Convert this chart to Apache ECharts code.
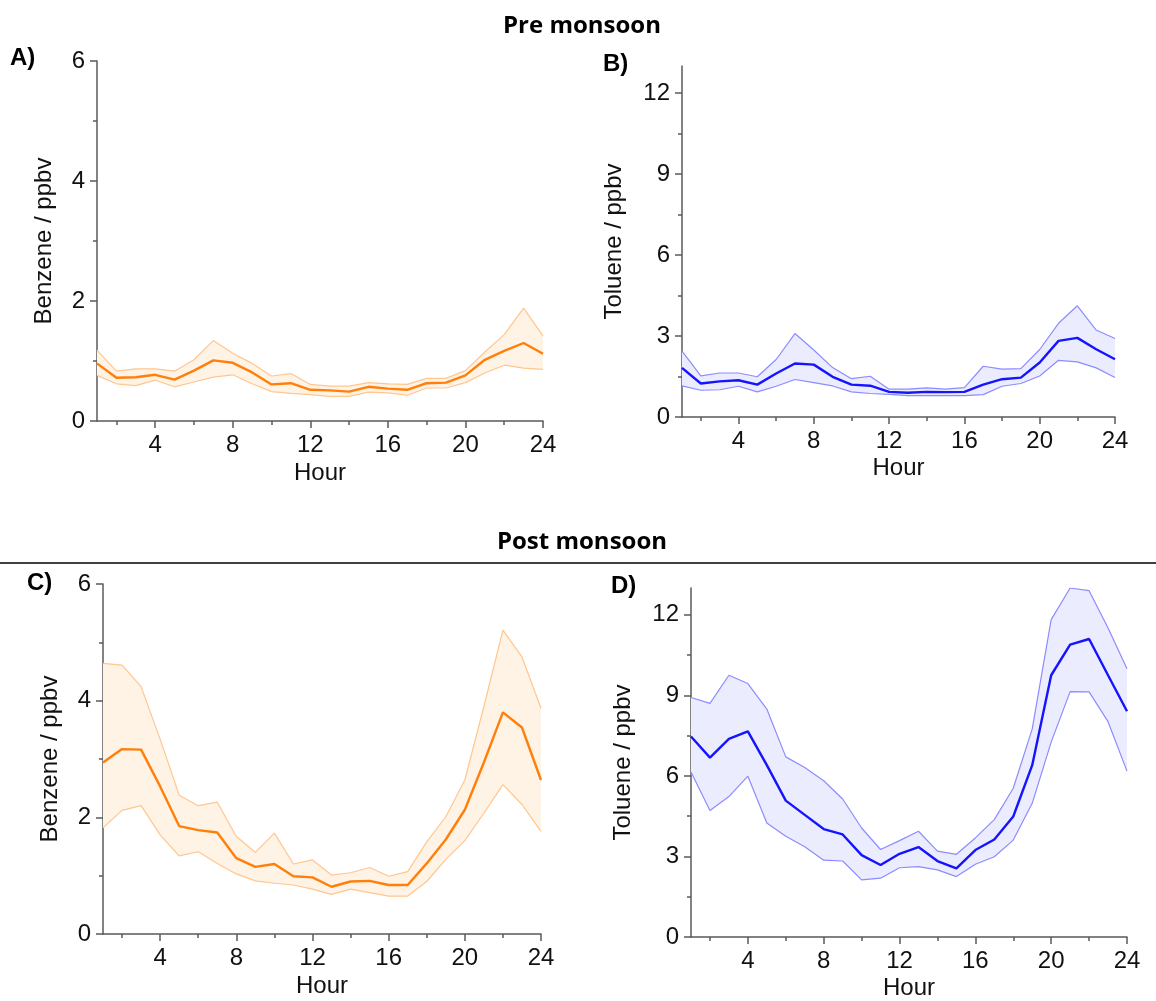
<!DOCTYPE html>
<html>
<head>
<meta charset="utf-8">
<title>Benzene and toluene diurnal profiles</title>
<script src="https://cdn.jsdelivr.net/npm/echarts@6/dist/echarts.min.js"></script>
<style>
  html, body { margin: 0; padding: 0; background: #ffffff; }
  #chart { width: 1156px; height: 1001px; }
</style>
</head>
<body>
<div id="chart"></div>
<script>
// Hour of day
const hours = [1,2,3,4,5,6,7,8,9,10,11,12,13,14,15,16,17,18,19,20,21,22,23,24];

// Pre monsoon benzene (ppbv): mean and band limits
const preBenzeneMean  = [0.96,0.72,0.73,0.77,0.69,0.84,1.01,0.97,0.81,0.61,0.63,0.52,0.51,0.49,0.57,0.54,0.52,0.63,0.64,0.76,1.02,1.17,1.30,1.12];
const preBenzeneUpper = [1.18,0.83,0.87,0.87,0.83,1.02,1.34,1.13,0.96,0.75,0.79,0.61,0.58,0.58,0.64,0.62,0.61,0.71,0.71,0.84,1.15,1.44,1.88,1.42];
const preBenzeneLower = [0.76,0.62,0.59,0.68,0.57,0.65,0.73,0.77,0.62,0.49,0.46,0.44,0.41,0.41,0.48,0.47,0.43,0.55,0.55,0.64,0.80,0.93,0.88,0.86];

// Pre monsoon toluene (ppbv)
const preTolueneMean  = [1.82,1.24,1.32,1.36,1.20,1.61,1.98,1.94,1.49,1.20,1.16,0.93,0.90,0.93,0.92,0.93,1.20,1.40,1.46,2.02,2.82,2.93,2.51,2.14];
const preTolueneUpper = [2.44,1.52,1.63,1.63,1.49,2.13,3.09,2.48,1.83,1.42,1.51,1.03,1.03,1.08,1.03,1.09,1.88,1.77,1.79,2.50,3.47,4.12,3.22,2.91];
const preTolueneLower = [1.15,0.99,1.01,1.14,0.93,1.14,1.39,1.27,1.15,0.93,0.87,0.84,0.79,0.79,0.79,0.79,0.83,1.14,1.24,1.52,2.10,2.04,1.82,1.46];

// Post monsoon benzene (ppbv)
const postBenzeneMean  = [2.94,3.17,3.16,2.53,1.85,1.78,1.74,1.30,1.15,1.20,0.99,0.97,0.81,0.90,0.91,0.84,0.84,1.21,1.62,2.13,2.94,3.80,3.54,2.64];
const postBenzeneUpper = [4.64,4.61,4.24,3.34,2.38,2.20,2.26,1.67,1.40,1.73,1.20,1.27,1.01,1.05,1.14,0.99,1.07,1.58,2.01,2.64,3.90,5.21,4.75,3.87];
const postBenzeneLower = [1.82,2.12,2.20,1.70,1.34,1.41,1.21,1.03,0.91,0.87,0.84,0.77,0.68,0.77,0.71,0.65,0.65,0.90,1.28,1.60,2.07,2.56,2.22,1.76];

// Post monsoon toluene (ppbv)
const postTolueneMean  = [7.47,6.68,7.38,7.66,6.40,5.08,4.55,4.02,3.82,3.05,2.68,3.10,3.35,2.83,2.56,3.24,3.63,4.49,6.40,9.75,10.89,11.10,9.75,8.41];
const postTolueneUpper = [8.92,8.70,9.75,9.44,8.49,6.71,6.31,5.82,5.14,4.06,3.26,3.59,3.94,3.20,3.08,3.69,4.37,5.54,7.75,11.82,13.00,12.90,11.51,9.99];
const postTolueneLower = [6.15,4.71,5.23,5.99,4.25,3.75,3.36,2.86,2.83,2.13,2.19,2.58,2.62,2.50,2.25,2.71,2.99,3.61,4.98,7.26,9.14,9.13,8.02,6.18];

// Axis ticks and labels
const hourLabelTicks = [4,8,12,16,20,24];
const hourMinorTicks = [2,6,10,14,18,22];
const benzeneTicks = [0,2,4,6];
const benzeneMinorTicks = [1,3,5];
const tolueneTicks = [0,3,6,9,12];
const tolueneMinorTicks = [1.5,4.5,7.5,10.5];

const ORANGE = { line: '#ff7f0a', edge: '#ffc68f', fill: '#fff3e6' };
const BLUE   = { line: '#1414ff', edge: '#8c8cff', fill: '#ececff' };

const AXIS_COLOR = '#5a5a5a';
const LABEL_FONT = 'Liberation Sans, Arial, sans-serif';
const FONT_SIZE = 24;

const panels = [
  { grid: { left: 97,  top: 61,  width: 446, height: 360 }, yMax: 6,  yName: 'Benzene / ppbv', yTicks: benzeneTicks, yMinor: benzeneMinorTicks, nameGap: 41, hourGap: 40,
    mean: preBenzeneMean, upper: preBenzeneUpper, lower: preBenzeneLower, col: ORANGE },
  { grid: { left: 682, top: 66,  width: 433, height: 351 }, yMax: 13, yName: 'Toluene / ppbv', yTicks: tolueneTicks, yMinor: tolueneMinorTicks, nameGap: 56, hourGap: 39,
    mean: preTolueneMean, upper: preTolueneUpper, lower: preTolueneLower, col: BLUE },
  { grid: { left: 103, top: 584, width: 438, height: 350 }, yMax: 6,  yName: 'Benzene / ppbv', yTicks: benzeneTicks, yMinor: benzeneMinorTicks, nameGap: 41, hourGap: 40,
    mean: postBenzeneMean, upper: postBenzeneUpper, lower: postBenzeneLower, col: ORANGE },
  { grid: { left: 691, top: 588, width: 436, height: 353 }, yMax: 13, yName: 'Toluene / ppbv', yTicks: tolueneTicks, yMinor: tolueneMinorTicks, nameGap: 56, hourGap: 39,
    mean: postTolueneMean, upper: postTolueneUpper, lower: postTolueneLower, col: BLUE }
];

const grids = [], xAxes = [], yAxes = [], series = [];

// Filled polygon between the lower and upper limits, built once per panel
function bandRenderer(upper, lower, fill) {
  return function (params, api) {
    if (params.dataIndex !== 0) return null;
    const pts = [];
    for (let k = 0; k < hours.length; k++) pts.push(api.coord([hours[k], upper[k]]));
    for (let k = hours.length - 1; k >= 0; k--) pts.push(api.coord([hours[k], lower[k]]));
    return { type: 'polygon', shape: { points: pts }, style: { fill: fill, stroke: null } };
  };
}

panels.forEach((p, i) => {
  grids.push(Object.assign({ containLabel: false }, p.grid));

  // major hour axis with labels
  xAxes.push({
    type: 'value', gridIndex: i, position: 'bottom', min: 1, max: 24,
    name: 'Hour', nameLocation: 'middle', nameGap: p.hourGap,
    nameTextStyle: { fontFamily: LABEL_FONT, fontSize: FONT_SIZE, color: '#111' },
    axisLine: { show: true, onZero: false, lineStyle: { color: AXIS_COLOR, width: 1.5 } },
    axisTick: { show: true, inside: false, length: 7, customValues: hourLabelTicks, lineStyle: { color: AXIS_COLOR, width: 1.5 } },
    axisLabel: { show: true, margin: 12, customValues: hourLabelTicks, fontFamily: LABEL_FONT, fontSize: FONT_SIZE, color: '#111' },
    splitLine: { show: false }
  });
  // minor hour ticks
  xAxes.push({
    type: 'value', gridIndex: i, position: 'bottom', min: 1, max: 24,
    axisLine: { show: false, onZero: false },
    axisTick: { show: true, inside: false, length: 4, customValues: hourMinorTicks, lineStyle: { color: AXIS_COLOR, width: 1.5 } },
    axisLabel: { show: false },
    splitLine: { show: false }
  });

  // major concentration axis with labels
  yAxes.push({
    type: 'value', gridIndex: i, position: 'left', min: 0, max: p.yMax,
    name: p.yName, nameLocation: 'middle', nameGap: p.nameGap,
    nameTextStyle: { fontFamily: LABEL_FONT, fontSize: FONT_SIZE, color: '#111' },
    axisLine: { show: true, onZero: false, lineStyle: { color: AXIS_COLOR, width: 1.5 } },
    axisTick: { show: true, inside: false, length: 7, customValues: p.yTicks, lineStyle: { color: AXIS_COLOR, width: 1.5 } },
    axisLabel: { show: true, margin: 12, customValues: p.yTicks, fontFamily: LABEL_FONT, fontSize: FONT_SIZE, color: '#111' },
    splitLine: { show: false }
  });
  // minor concentration ticks
  yAxes.push({
    type: 'value', gridIndex: i, position: 'left', min: 0, max: p.yMax,
    axisLine: { show: false, onZero: false },
    axisTick: { show: true, inside: false, length: 4, customValues: p.yMinor, lineStyle: { color: AXIS_COLOR, width: 1.5 } },
    axisLabel: { show: false },
    splitLine: { show: false }
  });

  const xi = i * 2, yi = i * 2;

  // shaded band
  series.push({
    type: 'custom', xAxisIndex: xi, yAxisIndex: yi, silent: true, z: 1,
    data: hours.map((h, k) => [h, p.lower[k], p.upper[k]]),
    encode: { x: 0, y: [1, 2] },
    renderItem: bandRenderer(p.upper, p.lower, p.col.fill)
  });
  // upper and lower limits
  [p.upper, p.lower].forEach(arr => {
    series.push({
      type: 'line', xAxisIndex: xi, yAxisIndex: yi,
      data: hours.map((h, k) => [h, arr[k]]),
      symbol: 'none', silent: true, z: 2,
      lineStyle: { color: p.col.edge, width: 1.2 }
    });
  });
  // mean
  series.push({
    type: 'line', xAxisIndex: xi, yAxisIndex: yi,
    data: hours.map((h, k) => [h, p.mean[k]]),
    symbol: 'none', silent: true, z: 3,
    lineStyle: { color: p.col.line, width: 2.4 }
  });
});

const PANEL_FONT = 'bold 24px "Liberation Sans", Arial, sans-serif';
const TITLE_FONT = 'bold 24px "Open Sans", sans-serif';

const chart = echarts.init(document.getElementById('chart'), null, { renderer: 'canvas' });
chart.setOption({
  backgroundColor: '#ffffff',
  animation: false,
  grid: grids,
  xAxis: xAxes,
  yAxis: yAxes,
  series: series,
  graphic: [
    { type: 'text', x: 582, y: 26, style: { text: 'Pre monsoon', font: TITLE_FONT, fill: '#000', textAlign: 'center', textVerticalAlign: 'middle' } },
    { type: 'text', x: 582, y: 542, style: { text: 'Post monsoon', font: TITLE_FONT, fill: '#000', textAlign: 'center', textVerticalAlign: 'middle' } },
    { type: 'line', shape: { x1: 0, y1: 563, x2: 1156, y2: 563 }, style: { stroke: '#000', lineWidth: 1.5 } },
    { type: 'text', x: 10, y: 58, style: { text: 'A)', font: PANEL_FONT, fill: '#000', textAlign: 'left', textVerticalAlign: 'middle' } },
    { type: 'text', x: 603, y: 64, style: { text: 'B)', font: PANEL_FONT, fill: '#000', textAlign: 'left', textVerticalAlign: 'middle' } },
    { type: 'text', x: 27, y: 583, style: { text: 'C)', font: PANEL_FONT, fill: '#000', textAlign: 'left', textVerticalAlign: 'middle' } },
    { type: 'text', x: 611, y: 586, style: { text: 'D)', font: PANEL_FONT, fill: '#000', textAlign: 'left', textVerticalAlign: 'middle' } }
  ]
});
</script>
</body>
</html>
